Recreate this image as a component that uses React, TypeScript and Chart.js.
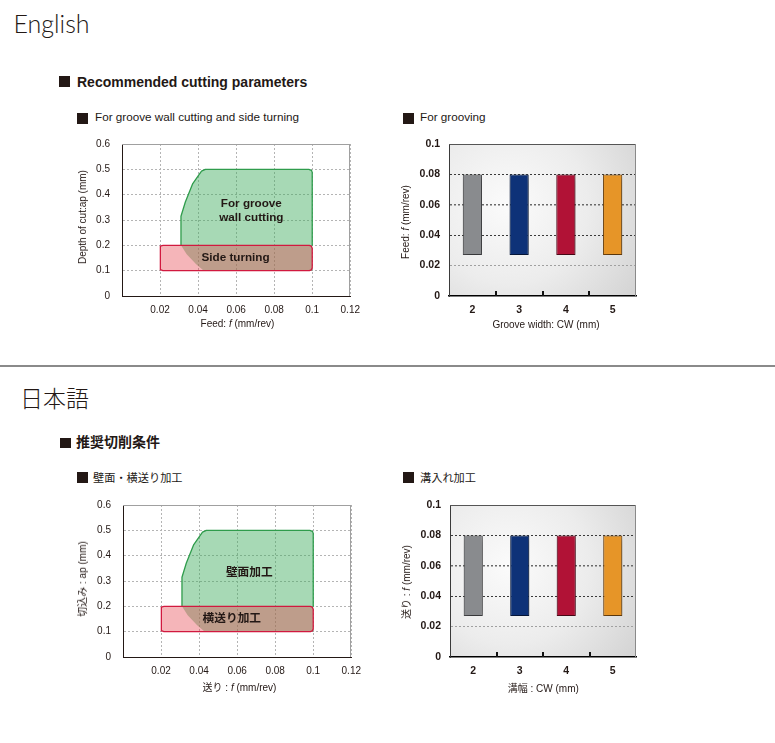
import React, { useEffect, useRef } from 'react';
import { Chart, registerables } from 'chart.js';

Chart.register(...registerables);

// ---------- data ----------
// groove wall cutting region (filled polygon, feed x / depth y)
const grooveWallX = [0.043, 0.039, 0.034, 0.031, 0.031, 0.0333, 0.0372, 0.0418, 0.0438, 0.0982, 0.0996, 0.1, 0.1, 0.043];
const grooveWallY = [0.1, 0.125, 0.165, 0.2, 0.315, 0.371, 0.444, 0.493, 0.5, 0.5, 0.496, 0.488, 0.1, 0.1];
// visible outline of the groove wall region
const grooveWallEdgeX = [0.031, 0.031, 0.0333, 0.0372, 0.0418, 0.0438, 0.0982, 0.0996, 0.1, 0.1];
const grooveWallEdgeY = [0.2, 0.315, 0.371, 0.444, 0.493, 0.5, 0.5, 0.496, 0.488, 0.2];
// side turning region
const sideTurnX = [0.0215, 0.0985, 0.0995, 0.1, 0.1, 0.0995, 0.0985, 0.0215, 0.0205, 0.02, 0.02, 0.0205, 0.0215];
const sideTurnY = [0.2, 0.2, 0.197, 0.188, 0.112, 0.103, 0.1, 0.1, 0.103, 0.112, 0.188, 0.197, 0.2];

const feedTickValues = [0, 0.02, 0.04, 0.06, 0.08, 0.1, 0.12];
const depthTickValues = [0, 0.1, 0.2, 0.3, 0.4, 0.5, 0.6];

// grooving
const grooveWidths = ['2', '3', '4', '5'];
const grooveFeedMin = [0.027, 0.027, 0.027, 0.027];
const grooveFeedMax = [0.08, 0.08, 0.08, 0.08];
const grooveFeedTickValues = [0, 0.02, 0.04, 0.06, 0.08, 0.1];
const grooveBarColors = ['#898b8e', '#0e3278', '#b11236', '#e69528'];
const grooveBarBorders = ['#4a4b4e', '#071c48', '#5c0a1c', '#7a4a10'];

// region labels
const regionLabelsEN = [
  { text: ['For groove', 'wall cutting'], x: 0.068, y: 0.336 },
  { text: ['Side turning'], x: 0.0597, y: 0.149 },
];
const regionLabelsJA = [
  { text: ['壁面加工'], x: 0.0664, y: 0.333 },
  { text: ['横送り加工'], x: 0.0572, y: 0.149 },
];

// ---------- styling ----------
const TEXT = '#231815';
const FONT = '"Liberation Sans", Arial, "Noto Sans CJK JP", sans-serif';
const YW = 50;
const XH = 30;
const PT = 22;

const fmt = (v: number) => (v === 0 ? '0' : String(Number(v.toFixed(3))));
const xy = (xs: number[], ys: number[]) => xs.map((x, i) => ({ x, y: ys[i] }));

const framePlugin = (topColor: string, rightColor: string) => ({
  id: 'frame',
  afterDraw(chart: any) {
    const { ctx, chartArea } = chart;
    const { left, top, right, bottom } = chartArea;
    ctx.save();
    ctx.lineWidth = 1;
    ctx.strokeStyle = topColor;
    ctx.beginPath();
    ctx.moveTo(left, Math.round(top) + 0.5);
    ctx.lineTo(right, Math.round(top) + 0.5);
    ctx.stroke();
    ctx.strokeStyle = rightColor;
    ctx.beginPath();
    ctx.moveTo(Math.round(right) - 0.5, top);
    ctx.lineTo(Math.round(right) - 0.5, bottom);
    ctx.stroke();
    ctx.restore();
  },
});

const labelPlugin = (items: { text: string[]; x: number; y: number }[]) => ({
  id: 'regionLabels',
  afterDatasetsDraw(chart: any) {
    const { ctx, scales } = chart;
    ctx.save();
    ctx.font = `bold 11.7px ${FONT}`;
    ctx.fillStyle = TEXT;
    ctx.textAlign = 'center';
    ctx.textBaseline = 'middle';
    for (const it of items) {
      const px = scales.x.getPixelForValue(it.x);
      const py = scales.y.getPixelForValue(it.y);
      const n = it.text.length;
      it.text.forEach((t, i) => ctx.fillText(t, px, py + (i - (n - 1) / 2) * 14.5));
    }
    ctx.restore();
  },
});

const bgPlugin = {
  id: 'plotBg',
  beforeDraw(chart: any) {
    const { ctx, chartArea } = chart;
    const { left, top, width, height } = chartArea;
    const g = ctx.createRadialGradient(left + width * 0.32, top + height * 0.4, 0, left + width * 0.32, top + height * 0.4, width * 0.85);
    g.addColorStop(0, '#fbfbfb');
    g.addColorStop(0.5, '#ececec');
    g.addColorStop(1, '#d2d2d2');
    ctx.save();
    ctx.fillStyle = g;
    ctx.fillRect(left, top, width, height);
    ctx.restore();
  },
};

const shadowPlugin = {
  id: 'barShadow',
  beforeDatasetsDraw(chart: any) {
    const ctx = chart.ctx;
    ctx.save();
    ctx.shadowColor = 'rgba(0,0,0,0.45)';
    ctx.shadowBlur = 8;
    ctx.shadowOffsetX = 2;
    ctx.shadowOffsetY = 2;
  },
  afterDatasetsDraw(chart: any) {
    chart.ctx.restore();
  },
};

const innerTickPlugin = {
  id: 'innerTicks',
  afterDraw(chart: any) {
    const { ctx, chartArea, scales } = chart;
    const n = chart.data.labels.length;
    ctx.save();
    ctx.fillStyle = '#111';
    for (let i = 0; i < n - 1; i++) {
      const px = (scales.x.getPixelForValue(i) + scales.x.getPixelForValue(i + 1)) / 2;
      ctx.fillRect(Math.round(px) - 1, chartArea.bottom - 5, 2, 5);
    }
    ctx.restore();
  },
};

function areaConfig(PR: number, labels: { text: string[]; x: number; y: number }[]): any {
  return {
    type: 'scatter',
    data: {
      datasets: [
        {
          data: xy(sideTurnX, sideTurnY),
          showLine: true,
          fill: 'shape',
          backgroundColor: 'rgba(230,60,70,0.38)',
          borderColor: '#d1193f',
          borderWidth: 1.3,
          borderJoinStyle: 'round',
          pointRadius: 0,
          order: 1,
        },
        {
          data: xy(grooveWallEdgeX, grooveWallEdgeY),
          showLine: true,
          fill: false,
          borderColor: '#2f9c4c',
          borderWidth: 1.3,
          borderJoinStyle: 'round',
          pointRadius: 0,
          order: 2,
        },
        {
          data: xy(grooveWallX, grooveWallY),
          showLine: true,
          fill: 'shape',
          backgroundColor: 'rgba(60,170,90,0.45)',
          borderColor: 'rgba(0,0,0,0)',
          borderWidth: 0,
          pointRadius: 0,
          order: 3,
        },
      ],
    },
    options: {
      animation: false,
      responsive: false,
      events: [],
      layout: { padding: { left: 0, top: PT, right: PR, bottom: 0 } },
      plugins: { legend: { display: false }, tooltip: { enabled: false } },
      scales: {
        x: {
          type: 'linear',
          min: 0,
          max: 0.12,
          afterBuildTicks: (s: any) => {
            s.ticks = feedTickValues.map((v) => ({ value: v }));
          },
          afterFit: (s: any) => {
            s.height = XH;
          },
          grid: { color: '#b4b4b4', lineWidth: 1, drawTicks: false },
          border: { color: TEXT, width: 1, dash: [2, 2] },
          ticks: {
            padding: 8,
            color: TEXT,
            font: { family: FONT, size: 10 },
            maxRotation: 0,
            autoSkip: false,
            callback: (v: any) => (Number(v) === 0 ? '' : fmt(Number(v))),
          },
        },
        y: {
          type: 'linear',
          min: 0,
          max: 0.6,
          afterBuildTicks: (s: any) => {
            s.ticks = depthTickValues.map((v) => ({ value: v }));
          },
          afterFit: (s: any) => {
            s.width = YW;
          },
          grid: { color: '#b4b4b4', lineWidth: 1, drawTicks: false },
          border: { color: TEXT, width: 1, dash: [2, 2] },
          ticks: {
            padding: 12,
            color: TEXT,
            font: { family: FONT, size: 10 },
            autoSkip: false,
            callback: (v: any) => fmt(Number(v)),
          },
        },
      },
    },
    plugins: [framePlugin('#a0a0a0', '#a0a0a0'), labelPlugin(labels)],
  };
}

function barConfig(PR: number): any {
  return {
    type: 'bar',
    data: {
      labels: grooveWidths,
      datasets: [
        {
          data: grooveWidths.map((_, i) => [grooveFeedMin[i], grooveFeedMax[i]]),
          backgroundColor: grooveBarColors,
          borderColor: grooveBarBorders,
          borderWidth: 1,
          borderSkipped: false,
          barPercentage: 0.41,
          categoryPercentage: 1,
        },
      ],
    },
    options: {
      animation: false,
      responsive: false,
      events: [],
      layout: { padding: { left: 0, top: PT, right: PR, bottom: 0 } },
      plugins: { legend: { display: false }, tooltip: { enabled: false } },
      scales: {
        x: {
          afterFit: (s: any) => {
            s.height = XH;
          },
          grid: { display: false, drawTicks: false },
          border: { color: '#000', width: 1.5 },
          ticks: { padding: 8, color: TEXT, font: { family: FONT, size: 10.5, weight: 'bold' } },
        },
        y: {
          type: 'linear',
          min: 0,
          max: 0.1,
          afterBuildTicks: (s: any) => {
            s.ticks = grooveFeedTickValues.map((v) => ({ value: v }));
          },
          afterFit: (s: any) => {
            s.width = YW;
          },
          grid: {
            drawTicks: false,
            color: (c: any) => {
              const v = c.tick ? c.tick.value : 0;
              if (v < 0.001 || v > 0.099) return 'rgba(0,0,0,0)';
              if (Math.abs(v - 0.02) < 1e-6) return '#a0a0a0';
              if (Math.abs(v - 0.06) < 1e-6) return '#6a6a6a';
              return '#3a3a3a';
            },
            lineWidth: (c: any) => (c.tick && Math.abs(c.tick.value - 0.06) < 1e-6 ? 1.5 : 1),
          },
          border: { color: '#3a3a3a', width: 1, dash: [2, 2] },
          ticks: {
            padding: 9,
            color: TEXT,
            font: { family: FONT, size: 10.5, weight: 'bold' },
            autoSkip: false,
            callback: (v: any) => fmt(Number(v)),
          },
        },
      },
    },
    plugins: [bgPlugin, shadowPlugin, innerTickPlugin, framePlugin('#555555', '#8a8a8a')],
  };
}

function ChartBox({ L, T, W, H, PR, make }: { L: number; T: number; W: number; H: number; PR: number; make: (pr: number) => any }) {
  const ref = useRef<HTMLCanvasElement>(null);
  const width = YW + W + PR;
  const height = PT + H + XH;
  useEffect(() => {
    const chart = new Chart(ref.current as HTMLCanvasElement, make(PR));
    return () => chart.destroy();
  }, []);
  return (
    <canvas
      ref={ref}
      width={width}
      height={height}
      style={{ position: 'absolute', left: L - YW, top: T - PT, width, height }}
    />
  );
}

const abs = (extra: React.CSSProperties): React.CSSProperties => ({
  position: 'absolute',
  whiteSpace: 'nowrap',
  lineHeight: 1,
  color: TEXT,
  ...extra,
});

function Square({ left, top, size }: { left: number; top: number; size: number }) {
  return <div style={{ position: 'absolute', left, top, width: size, height: size, background: TEXT }} />;
}

function YTitle({ cx, cy, children }: { cx: number; cy: number; children: React.ReactNode }) {
  return (
    <div style={abs({ left: cx, top: cy, fontSize: 10, transform: 'translate(-50%,-50%) rotate(-90deg)' })}>
      {children}
    </div>
  );
}

function XTitle({ cx, cy, children }: { cx: number; cy: number; children: React.ReactNode }) {
  return <div style={abs({ left: cx, top: cy, fontSize: 10, transform: 'translate(-50%,-50%)' })}>{children}</div>;
}

export default function App() {
  useEffect(() => {
    document.body.style.margin = '0';
  }, []);
  return (
    <div
      style={{
        position: 'relative',
        width: 775,
        height: 743,
        background: '#fff',
        overflow: 'hidden',
        fontFamily: FONT,
        color: TEXT,
      }}
    >
      {/* English */}
      <div style={abs({ left: 13.5, top: 10.5, fontFamily: 'Lato, "Open Sans", sans-serif', fontWeight: 300, fontSize: 25 })}>
        English
      </div>
      <Square left={59} top={76} size={11.3} />
      <div style={abs({ left: 77, top: 75, fontSize: 14, fontWeight: 700 })}>Recommended cutting parameters</div>
      <Square left={76.5} top={112.5} size={11} />
      <div style={abs({ left: 95, top: 110.8, fontSize: 11.7 })}>For groove wall cutting and side turning</div>
      <Square left={403} top={112.5} size={11} />
      <div style={abs({ left: 420, top: 110.8, fontSize: 11.7 })}>For grooving</div>

      <ChartBox L={122} T={144} W={230} H={152} PR={16} make={(pr) => areaConfig(pr, regionLabelsEN)} />
      <ChartBox L={449} T={144} W={187} H={152} PR={8} make={(pr) => barConfig(pr)} />

      <YTitle cx={82.7} cy={217}>Depth of cut:ap (mm)</YTitle>
      <XTitle cx={237.5} cy={324}>
        Feed: <i>f</i> (mm/rev)
      </XTitle>
      <YTitle cx={406} cy={222}>
        Feed: <i>f</i> (mm/rev)
      </YTitle>
      <XTitle cx={546} cy={325}>Groove width: CW (mm)</XTitle>

      {/* separator */}
      <div style={{ position: 'absolute', left: 0, top: 365, width: 775, height: 2, background: '#8a8a8a' }} />

      {/* Japanese */}
      <div style={abs({ left: 20, top: 385.5, fontFamily: '"Noto Sans CJK JP", sans-serif', fontWeight: 300, fontSize: 23 })}>
        日本語
      </div>
      <Square left={60} top={437.7} size={10.6} />
      <div style={abs({ left: 76, top: 434.2, fontSize: 14, fontWeight: 700, fontFamily: '"Noto Sans CJK JP", sans-serif' })}>
        推奨切削条件
      </div>
      <Square left={77} top={472.3} size={10.8} />
      <div style={abs({ left: 93, top: 472.3, fontSize: 11.2, fontFamily: '"Noto Sans CJK JP", sans-serif' })}>
        壁面・横送り加工
      </div>
      <Square left={403} top={472.3} size={10.8} />
      <div style={abs({ left: 420, top: 472.3, fontSize: 11.2, fontFamily: '"Noto Sans CJK JP", sans-serif' })}>
        溝入れ加工
      </div>

      <ChartBox L={123} T={505} W={230} H={152} PR={16} make={(pr) => areaConfig(pr, regionLabelsJA)} />
      <ChartBox L={450} T={505} W={186} H={152} PR={8} make={(pr) => barConfig(pr)} />

      <YTitle cx={82.7} cy={579}>切込み : ap (mm)</YTitle>
      <XTitle cx={239.5} cy={688}>
        送り : <i>f</i> (mm/rev)
      </XTitle>
      <YTitle cx={406.7} cy={582}>
        送り : <i>f</i> (mm/rev)
      </YTitle>
      <XTitle cx={543.3} cy={689}>溝幅 : CW (mm)</XTitle>
    </div>
  );
}
